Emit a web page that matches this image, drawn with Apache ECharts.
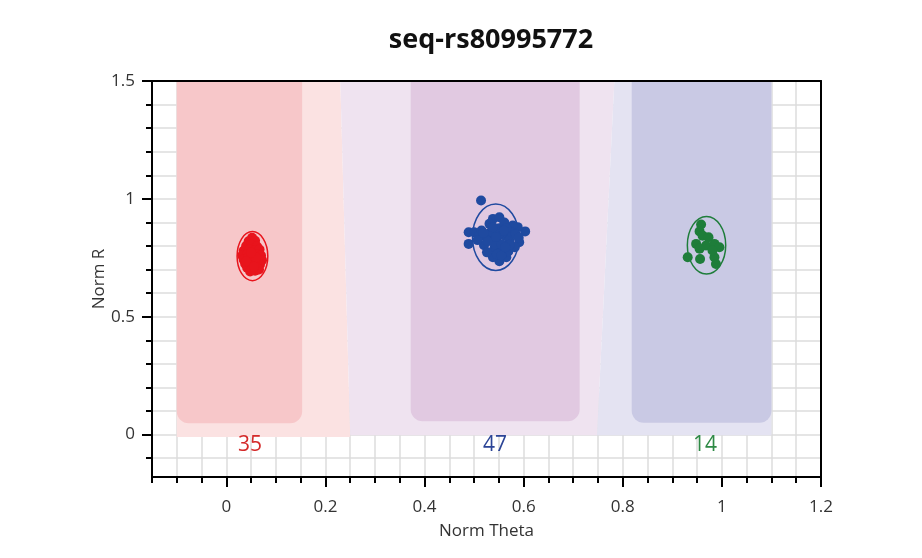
<!DOCTYPE html>
<html>
<head>
<meta charset="utf-8">
<script src="https://cdn.jsdelivr.net/npm/echarts@6/dist/echarts.min.js"></script>
<style>
  html, body { margin: 0; background: #fff; }
  #chart { width: 922px; height: 558px; }
</style>
</head>
<body>
<div id="chart"></div>
<script>
// cluster plot: norm theta vs norm R, three genotype groups
var FONT = '"Open Sans", "Noto Sans", sans-serif';

var xMajorTicks = [0, 0.2, 0.4, 0.6, 0.8, 1, 1.2];
var yMajorTicks = [0, 0.5, 1, 1.5];
var yMinorTicks = [-0.1, 0, 0.1, 0.2, 0.3, 0.4, 0.5, 0.6, 0.7, 0.8, 0.9, 1, 1.1, 1.2, 1.3, 1.4, 1.5];

// light background bands: [thetaLeftTop, thetaRightTop, thetaLeftBottom, thetaRightBottom, rTop, rBottom]
var lightBands = [
  [-0.1, 0.23, -0.1, 0.25, 1.5, -0.01],
  [0.23, 0.783, 0.25, 0.748, 1.5, -0.003],
  [0.783, 1.1, 0.748, 1.1, 1.5, -0.003]
];
// cluster zones: [thetaMin, thetaMax, rMin, rMax]
var zones = [
  [-0.1, 0.153, 0.048, 1.5],
  [0.372, 0.713, 0.056, 1.5],
  [0.818, 1.1, 0.05, 1.5]
];

var aaPoints = [
  [0.052, 0.835], [0.045, 0.820], [0.058, 0.822], [0.040, 0.800], [0.050, 0.805],
  [0.062, 0.798], [0.035, 0.780], [0.047, 0.785], [0.057, 0.780], [0.067, 0.785],
  [0.032, 0.760], [0.042, 0.765], [0.052, 0.762], [0.062, 0.765], [0.070, 0.760],
  [0.035, 0.742], [0.045, 0.745], [0.055, 0.740], [0.065, 0.745], [0.072, 0.740],
  [0.038, 0.725], [0.048, 0.722], [0.058, 0.728], [0.068, 0.722], [0.042, 0.708],
  [0.052, 0.705], [0.062, 0.710], [0.048, 0.692], [0.058, 0.695], [0.066, 0.700],
  [0.044, 0.752], [0.060, 0.752], [0.050, 0.772], [0.040, 0.735], [0.056, 0.712]
];
var abPoints = [
  [0.514, 0.993], [0.489, 0.858], [0.489, 0.809], [0.500, 0.858], [0.603, 0.862],
  [0.588, 0.880], [0.578, 0.887], [0.591, 0.816], [0.538, 0.915], [0.551, 0.922],
  [0.531, 0.894], [0.551, 0.735], [0.538, 0.752], [0.565, 0.752], [0.524, 0.837],
  [0.531, 0.845], [0.545, 0.824], [0.561, 0.845], [0.571, 0.824], [0.541, 0.790],
  [0.557, 0.782], [0.520, 0.803], [0.575, 0.858], [0.551, 0.875], [0.561, 0.900],
  [0.535, 0.862], [0.526, 0.773], [0.546, 0.765], [0.569, 0.777], [0.542, 0.807],
  [0.555, 0.807], [0.565, 0.875], [0.584, 0.850], [0.509, 0.841], [0.515, 0.866],
  [0.582, 0.795], [0.528, 0.820], [0.549, 0.850], [0.560, 0.865], [0.538, 0.880],
  [0.572, 0.805], [0.555, 0.760], [0.507, 0.825], [0.590, 0.835], [0.519, 0.855],
  [0.563, 0.795], [0.544, 0.838]
];
var bbPoints = [
  [0.958, 0.891], [0.955, 0.862], [0.961, 0.844], [0.973, 0.837], [0.948, 0.809],
  [0.968, 0.802], [0.985, 0.809], [0.995, 0.795], [0.931, 0.752], [0.956, 0.745],
  [0.985, 0.752], [0.988, 0.724], [0.955, 0.788], [0.981, 0.781]
];
// ellipses: [thetaCenter, rCenter, thetaRadius, rRadius]
var ellipses = [
  [0.0527, 0.757, 0.031, 0.104],
  [0.5437, 0.837, 0.047, 0.141],
  [0.969, 0.803, 0.0387, 0.122]
];
var countPos = [[0.048, -0.044], [0.542, -0.044], [0.966, -0.044]];
var countText = [String(aaPoints.length), String(abPoints.length), String(bbPoints.length)];

var bandColors = ['#fbe2e2', '#efe3f0', '#e4e3f2'];
var zoneColors = ['#f7c7c9', '#e1c9e1', '#c9c9e4'];
var groupColors = ['#e8141c', '#1f4aa0', '#1e7d3a'];
var countColors = ['#d42a2a', '#2b4496', '#2e8a45'];

var chart = echarts.init(document.getElementById('chart'));

function renderBand(params, api) {
  var pts = [
    api.coord([api.value(0), api.value(4)]),
    api.coord([api.value(1), api.value(4)]),
    api.coord([api.value(3), api.value(5)]),
    api.coord([api.value(2), api.value(5)])
  ];
  return { type: 'polygon', shape: { points: pts }, style: { fill: bandColors[params.dataIndex] } };
}
function renderZone(params, api) {
  var p0 = api.coord([api.value(0), api.value(3)]);
  var p1 = api.coord([api.value(1), api.value(2)]);
  return {
    type: 'rect',
    shape: { x: p0[0], y: p0[1], width: p1[0] - p0[0], height: p1[1] - p0[1], r: [0, 0, 12, 12] },
    style: { fill: zoneColors[params.dataIndex] }
  };
}
function renderEllipse(params, api) {
  var c = api.coord([api.value(0), api.value(1)]);
  var s = api.size([api.value(2), api.value(3)]);
  return {
    type: 'ellipse',
    shape: { cx: c[0], cy: c[1], rx: s[0], ry: s[1] },
    style: { fill: 'none', stroke: groupColors[params.dataIndex], lineWidth: 1.5 }
  };
}
function renderCount(params, api) {
  var c = api.coord([api.value(0), api.value(1)]);
  return {
    type: 'text', x: c[0], y: c[1],
    style: {
      text: countText[params.dataIndex], fill: countColors[params.dataIndex],
      fontSize: 21, fontFamily: FONT, align: 'center', verticalAlign: 'middle'
    }
  };
}

function pointSeries(data, idx) {
  return {
    type: 'scatter', data: data, symbolSize: 10, z: 4,
    itemStyle: { color: groupColors[idx], opacity: 1 }
  };
}

var axisLabelStyle = { color: '#333', fontSize: 17, fontFamily: FONT };
var axisNameStyle = { color: '#333', fontSize: 17, fontFamily: FONT };
var blackLine = { color: '#000', width: 2 };

chart.setOption({
  animation: false,
  title: {
    text: 'seq-rs80995772', left: 486, top: 22, textAlign: 'center',
    textStyle: { fontSize: 27, fontWeight: 'bold', color: '#111', fontFamily: FONT }
  },
  grid: { left: 152, right: 101, top: 81, bottom: 81 },
  xAxis: [
    { // minor ticks + grid lines
      type: 'value', min: -0.15, max: 1.2, interval: 0.05, position: 'bottom',
      axisLine: { show: true, onZero: false, lineStyle: blackLine },
      axisTick: { show: true, length: 6, lineStyle: blackLine },
      axisLabel: { show: false },
      splitLine: { show: true, lineStyle: { color: '#dddddd', width: 1.5 } },
      name: 'Norm Theta', nameLocation: 'middle', nameGap: 46, nameTextStyle: axisNameStyle
    },
    { // major ticks + labels
      type: 'value', min: -0.15, max: 1.2, position: 'bottom', z: 10,
      axisLine: { show: false, onZero: false },
      axisTick: { show: true, length: 10, customValues: xMajorTicks, lineStyle: blackLine },
      axisLabel: Object.assign({ show: true, margin: 22, customValues: xMajorTicks }, axisLabelStyle),
      splitLine: { show: false }
    },
    { // top border
      type: 'value', min: -0.15, max: 1.2, position: 'top', z: 10,
      axisLine: { show: true, onZero: false, lineStyle: blackLine },
      axisTick: { show: false }, axisLabel: { show: false }, splitLine: { show: false }
    }
  ],
  yAxis: [
    {
      type: 'value', min: -0.18, max: 1.5, position: 'left',
      axisLine: { show: true, onZero: false, lineStyle: blackLine },
      axisTick: { show: true, length: 6, customValues: yMinorTicks, lineStyle: blackLine },
      axisLabel: { show: false },
      splitLine: { show: true, lineStyle: { color: '#dddddd', width: 1.5 } },
      name: 'Norm R', nameLocation: 'middle', nameGap: 44, nameTextStyle: axisNameStyle
    },
    {
      type: 'value', min: -0.18, max: 1.5, position: 'left', z: 10,
      axisLine: { show: false, onZero: false },
      axisTick: { show: true, length: 10, customValues: yMajorTicks, lineStyle: blackLine },
      axisLabel: Object.assign({ show: true, margin: 17, customValues: yMajorTicks }, axisLabelStyle),
      splitLine: { show: false }
    },
    {
      type: 'value', min: -0.18, max: 1.5, position: 'right', z: 10,
      axisLine: { show: true, onZero: false, lineStyle: blackLine },
      axisTick: { show: false }, axisLabel: { show: false }, splitLine: { show: false }
    }
  ],
  series: [
    { type: 'custom', renderItem: renderBand, data: lightBands, z: 1, silent: true },
    { type: 'custom', renderItem: renderZone, data: zones, z: 2, silent: true },
    { type: 'custom', renderItem: renderEllipse, data: ellipses, z: 3, silent: true },
    pointSeries(aaPoints, 0),
    pointSeries(abPoints, 1),
    pointSeries(bbPoints, 2),
    { type: 'custom', renderItem: renderCount, data: countPos, z: 5, silent: true }
  ]
});
</script>
</body>
</html>
